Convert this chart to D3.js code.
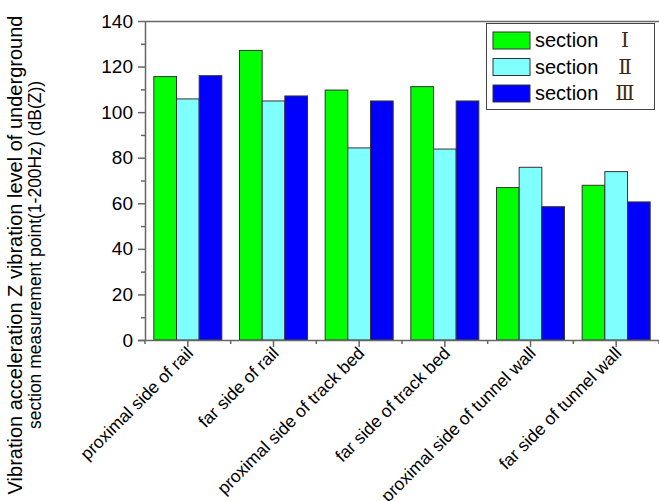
<!DOCTYPE html>
<html>
<head>
<meta charset="utf-8">
<script src="https://cdn.jsdelivr.net/npm/d3@7"></script>
<style>
  html, body { margin: 0; padding: 0; background: #fff; }
  svg { display: block; font-family: "Liberation Sans", Arial, sans-serif; }
</style>
</head>
<body>
<svg id="chart" width="659" height="501"></svg>
<script>
const categories = ["proximal side of rail", "far side of rail", "proximal side of track bed",
  "far side of track bed", "proximal side of tunnel wall", "far side of tunnel wall"];
const seriesNames = ["section", "section", "section"];
const seriesNumerals = ["\u2160", "\u2161", "\u2162"];
const sectionI   = [115.6, 127.1, 109.7, 111.2, 66.9, 67.9];
const sectionII  = [105.8, 104.9, 84.3, 83.8, 75.8, 73.9];
const sectionIII = [116.0, 107.1, 104.9, 104.9, 58.5, 60.6];
const yTicks = [0, 20, 40, 60, 80, 100, 120, 140];
const yMinorTicks = [10, 30, 50, 70, 90, 110, 130];
const colors = ["#00ff00", "#80ffff", "#0000ff"];
const yTitleLines = ["Vibration acceleration Z vibration level of underground",
  "section measurement point(1-200Hz) (dB(Z))"];

const series = [sectionI, sectionII, sectionIII];

const svg = d3.select("#chart");
const pLeft = 145, pRight = 659, pTop = 21, pBottom = 340;
const axisColor = "#666";

const x = d3.scaleBand().domain(categories).range([pLeft, pRight]).paddingInner(0.206).paddingOuter(0.103);
const xs = d3.scaleBand().domain(d3.range(series.length)).range([0, x.bandwidth()]).padding(0);
const y = d3.scaleLinear().domain([0, 140]).range([pBottom, pTop]);

// bars
categories.forEach((c, i) => {
  const g = svg.append("g").attr("transform", `translate(${x(c)},0)`);
  series.forEach((s, j) => {
    g.append("rect")
      .attr("x", xs(j)).attr("y", y(s[i]))
      .attr("width", xs.bandwidth()).attr("height", y(0) - y(s[i]))
      .attr("fill", colors[j]).attr("stroke", "#333").attr("stroke-width", 1);
  });
});

// top border
svg.append("line").attr("x1", pLeft).attr("x2", pRight).attr("y1", pTop + 0.5).attr("y2", pTop + 0.5)
  .attr("stroke", axisColor).attr("stroke-width", 1.5);

// y axis
const yAxis = svg.append("g").attr("transform", `translate(${pLeft},0)`)
  .call(d3.axisLeft(y).tickValues(yTicks).tickSize(7).tickPadding(5).tickSizeOuter(0));
yAxis.select(".domain").attr("stroke", axisColor).attr("stroke-width", 1.5);
yAxis.selectAll(".tick line").attr("stroke", axisColor).attr("stroke-width", 1.5);
yAxis.selectAll(".tick text").attr("font-size", 19).attr("fill", "#000")
  .attr("font-family", "Liberation Sans, Arial, sans-serif");
const yMinor = svg.append("g").attr("transform", `translate(${pLeft},0)`)
  .call(d3.axisLeft(y).tickValues(yMinorTicks).tickSize(4).tickFormat(""));
yMinor.select(".domain").remove();
yMinor.selectAll(".tick line").attr("stroke", axisColor).attr("stroke-width", 1.5);

// x axis
const xAxis = svg.append("g").attr("transform", `translate(0,${pBottom})`)
  .call(d3.axisBottom(x).tickSize(7).tickSizeOuter(0).tickFormat(""));
xAxis.select(".domain").attr("stroke", axisColor).attr("stroke-width", 1.5)
  .attr("d", `M${pLeft - 7},0.5H${pRight}`);
xAxis.selectAll(".tick line").attr("stroke", axisColor).attr("stroke-width", 1.5);
const boundaries = categories.map(c => x(c) + x.bandwidth() / 2 - x.step() / 2)
  .concat([x(categories[categories.length - 1]) + x.bandwidth() / 2 + x.step() / 2]);
xAxis.selectAll(".minor").data(boundaries).enter().append("line")
  .attr("x1", d => d).attr("x2", d => d).attr("y1", 0).attr("y2", 4)
  .attr("stroke", axisColor).attr("stroke-width", 1.5);

// x labels
svg.append("g").selectAll("text").data(categories).enter().append("text")
  .attr("transform", d => `translate(${x(d) + x.bandwidth() / 2 + 2},${pBottom + 10}) rotate(-45)`)
  .attr("text-anchor", "end").attr("dy", "0.35em")
  .attr("font-size", 17.5).attr("fill", "#000")
  .text(d => d);

// y title
const titleSizes = [20, 17.5];
svg.append("g").selectAll("text").data(yTitleLines).enter().append("text")
  .attr("transform", (d, i) => `translate(${22 + i * 19},255) rotate(-90)`)
  .attr("text-anchor", "middle").attr("font-size", (d, i) => titleSizes[i]).attr("fill", "#000")
  .text(d => d);

// legend
const lg = svg.append("g");
lg.append("rect").attr("x", 486.5).attr("y", 23.5).attr("width", 168).attr("height", 86)
  .attr("fill", "#fff").attr("stroke", "#444").attr("stroke-width", 1);
series.forEach((s, j) => {
  const yy = 32 + j * 26.5;
  lg.append("rect").attr("x", 493).attr("y", yy).attr("width", 37).attr("height", 17)
    .attr("fill", colors[j]).attr("stroke", "#333").attr("stroke-width", 1);
  const t = lg.append("text").attr("x", 535).attr("y", yy + 15).attr("font-size", 20).attr("fill", "#000");
  t.append("tspan").text(seriesNames[j]);
  t.append("tspan").attr("x", 625).attr("text-anchor", "middle")
    .attr("font-family", "DejaVu Serif, Liberation Serif, serif").attr("font-size", 20)
    .attr("fill", "#3a2a10").text(seriesNumerals[j]);
});
</script>
</body>
</html>
